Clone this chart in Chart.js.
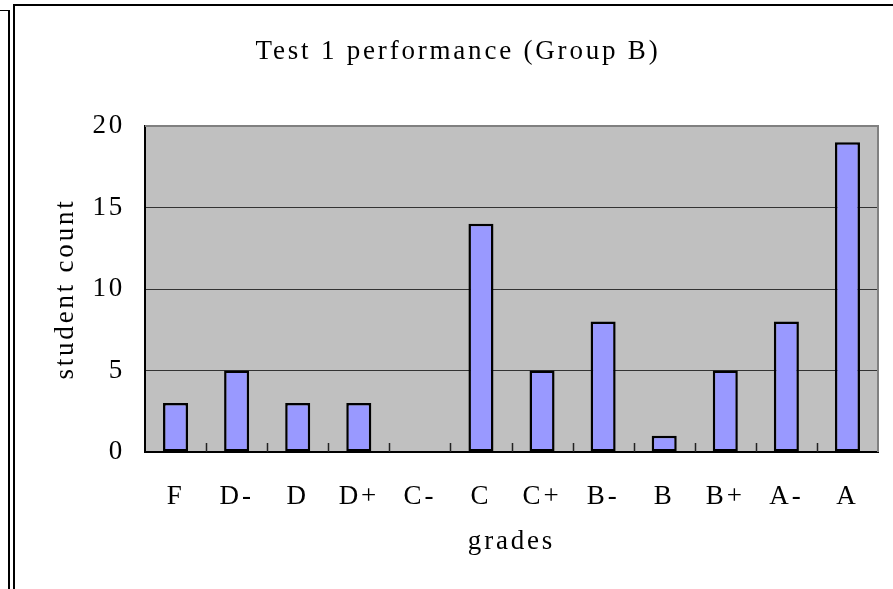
<!DOCTYPE html>
<html>
<head>
<meta charset="utf-8">
<script src="https://cdn.jsdelivr.net/npm/chart.js@4/dist/chart.umd.min.js"></script>
<style>
  html, body { margin: 0; padding: 0; background: #fff; }
  #wrap { position: relative; width: 893px; height: 589px; overflow: hidden; }
  canvas { position: absolute; left: 0; top: 0; }
  .ln { position: absolute; background: #000; }
</style>
</head>
<body>
<div id="wrap">
  <canvas id="c" width="893" height="589"></canvas>
  <div class="ln" style="left:0;top:10px;width:10px;height:1px;"></div>
  <div class="ln" style="left:8px;top:10px;width:2px;height:579px;"></div>
  <div class="ln" style="left:13px;top:4px;width:2px;height:585px;"></div>
  <div class="ln" style="left:13px;top:4px;width:880px;height:2px;"></div>
</div>
<script>
const chartTitle = "Test 1 performance (Group B)";
const xAxisTitle = "grades";
const yAxisTitle = "student count";
const grades = ["F", "D-", "D", "D+", "C-", "C", "C+", "B-", "B", "B+", "A-", "A"];
const studentCounts = [3, 5, 3, 3, 0, 14, 5, 8, 1, 5, 8, 19];
const yTicks = [0, 5, 10, 15, 20];

const FONT = "'Liberation Serif', 'DejaVu Serif', serif";
const FS = 27;
const SPACING = '2.8px';

const plotBg = {
  id: 'plotBg',
  beforeUpdate(chart) { chart.ctx.letterSpacing = SPACING; },
  beforeLayout(chart) { chart.ctx.letterSpacing = SPACING; },
  beforeDraw(chart) {
    const {ctx, chartArea: a} = chart;
    ctx.letterSpacing = SPACING;
    ctx.save();
    ctx.fillStyle = '#fff';
    ctx.fillRect(0, 0, chart.width, chart.height);
    ctx.fillStyle = '#C0C0C0';
    ctx.fillRect(a.left, a.top, a.right - a.left, a.bottom - a.top);
    ctx.restore();
  },
  afterDraw(chart) {
    const {ctx, chartArea: a} = chart;
    const xs = chart.scales.x;
    ctx.save();
    ctx.strokeStyle = '#808080';
    ctx.lineWidth = 2;
    ctx.beginPath();
    ctx.moveTo(a.left, a.top);
    ctx.lineTo(a.right, a.top);
    ctx.lineTo(a.right, a.bottom);
    ctx.stroke();
    ctx.strokeStyle = '#222';
    ctx.lineWidth = 1.5;
    ctx.beginPath();
    for (let i = 1; i < grades.length; i++) {
      const px = Math.round((xs.getPixelForValue(i - 1) + xs.getPixelForValue(i)) / 2) + 0.5;
      ctx.moveTo(px, a.bottom);
      ctx.lineTo(px, a.bottom - 9);
    }
    ctx.stroke();
    ctx.restore();
  }
};

new Chart(document.getElementById('c'), {
  type: 'bar',
  data: {
    labels: grades,
    datasets: [{
      data: studentCounts,
      backgroundColor: '#9999FF',
      borderColor: '#000',
      borderWidth: 2.5,
      borderSkipped: false,
      barPercentage: 0.41,
      categoryPercentage: 1.0
    }]
  },
  options: {
    responsive: false,
    animation: false,
    devicePixelRatio: 1,
    layout: { padding: { left: 38, right: 15, top: 0, bottom: 0 } },
    plugins: {
      legend: { display: false },
      tooltip: { enabled: false },
      title: {
        display: true,
        text: chartTitle,
        color: '#000',
        font: { family: FONT, size: FS, weight: 'normal', lineHeight: 1.2 },
        padding: { top: 35.3, bottom: 58.3 }
      }
    },
    scales: {
      x: {
        grid: { display: false, drawTicks: false },
        border: { display: true, color: '#000', width: 2 },
        ticks: {
          color: '#000',
          padding: 28.5,
          font: { family: FONT, size: FS },
          maxRotation: 0,
          autoSkip: false
        },
        title: {
          display: true,
          text: xAxisTitle,
          color: '#000',
          font: { family: FONT, size: FS, lineHeight: 1.2 },
          padding: { top: 0, bottom: 31 }
        },
        afterFit(scale) { scale.height = 137; }
      },
      y: {
        min: 0,
        max: 20,
        afterBuildTicks(scale) { scale.ticks = yTicks.map(v => ({ value: v })); },
        grid: {
          drawTicks: false,
          color: ctx => (ctx.tick && (ctx.tick.value === 0 || ctx.tick.value === 20)) ? 'rgba(0,0,0,0)' : '#333',
          lineWidth: 1
        },
        border: { display: true, color: '#000', width: 2 },
        ticks: {
          color: '#000',
          padding: 20,
          font: { family: FONT, size: FS }
        },
        title: {
          display: true,
          text: yAxisTitle,
          color: '#000',
          font: { family: FONT, size: FS, lineHeight: 1.2 },
          padding: { top: 11.8, bottom: 0 }
        },
        afterFit(scale) { scale.width = 107; }
      }
    }
  },
  plugins: [plotBg]
});
</script>
</body>
</html>
